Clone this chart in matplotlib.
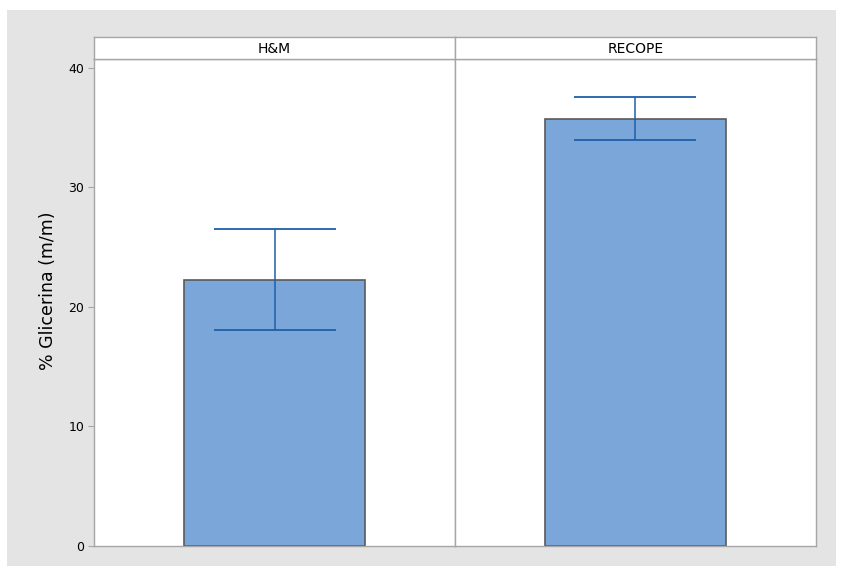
import matplotlib.pyplot as plt
from matplotlib.patches import Rectangle

# data
groups = ["H&M", "RECOPE"]
means = [22.26, 35.73]
err_low = [4.19, 1.76]
err_high = [4.24, 1.84]
yticks = [0, 10, 20, 30, 40]

bar_color = "#7ba6d9"
err_color = "#1f5fa8"
frame_color = "#a6a6a6"

W, H = 841, 569
fig = plt.figure(figsize=(W / 100, H / 100), dpi=100)
fig.patch.set_facecolor("white")

# gray panel behind everything
fig.patches.append(Rectangle((7 / W, 1 - 566 / H), 829 / W, 556 / H,
                             transform=fig.transFigure, facecolor="#e4e4e4",
                             edgecolor="none", zorder=-10))

left, right = 94 / W, 816 / W
bottom, top = 1 - 546 / H, 1 - 59 / H
strip_top = 1 - 37 / H
pw = (right - left) / len(groups)

axes = []
for i, g in enumerate(groups):
    ax = fig.add_axes([left + i * pw, bottom, pw, top - bottom])
    ax.bar([0], [means[i]], width=0.5, color=bar_color, edgecolor="#5a5a5a",
           linewidth=1.2, zorder=2)
    ax.errorbar([0], [means[i]], yerr=[[err_low[i]], [err_high[i]]], fmt="none",
                ecolor=err_color, elinewidth=1.1, capsize=44, capthick=1.3, zorder=3)
    ax.set_xlim(-0.5, 0.5)
    ax.set_ylim(0, 40.75)
    ax.set_xticks([])
    for s in ax.spines.values():
        s.set_color(frame_color)
        s.set_linewidth(1)
    if i == 0:
        ax.set_yticks(yticks)
        ax.tick_params(axis="y", direction="out", length=4, color=frame_color,
                       labelsize=9, pad=3)
    else:
        ax.set_yticks([])
    # strip with the group name
    sx = fig.add_axes([left + i * pw, top, pw, strip_top - top])
    sx.set_xticks([])
    sx.set_yticks([])
    for s in sx.spines.values():
        s.set_color(frame_color)
        s.set_linewidth(1)
    sx.text(0.5, 0.45, g, ha="center", va="center", fontsize=10,
            transform=sx.transAxes)
    axes.append(ax)

fig.text(48 / W, 1 - 291 / H, "% Glicerina (m/m)", rotation=90, fontsize=12.5,
         ha="center", va="center")

fig.savefig("out.png", dpi=100, facecolor=fig.get_facecolor())
